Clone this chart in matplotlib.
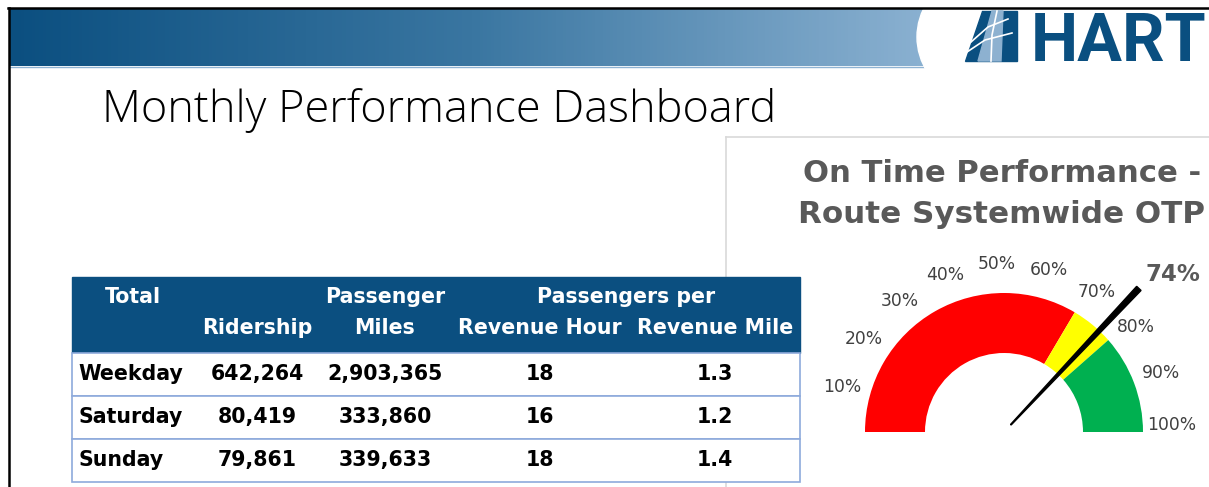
import numpy as np
import matplotlib
matplotlib.use("Agg")
import matplotlib.pyplot as plt
from matplotlib.colors import LinearSegmentedColormap
from matplotlib.patches import Rectangle, Polygon, Ellipse

# table data
days = ["Weekday", "Saturday", "Sunday"]
ridership = ["642,264", "80,419", "79,861"]
passenger_miles = ["2,903,365", "333,860", "339,633"]
per_rev_hour = ["18", "16", "18"]
per_rev_mile = ["1.3", "1.2", "1.4"]

# gauge data
otp_value = 74
band_edges = [0, 67, 77, 100]
band_colors = ["#ff0000", "#ffff00", "#00b050"]
tick_values = [10, 20, 30, 40, 50, 60, 70, 80, 90, 100]

W, H = 1209, 487
fig = plt.figure(figsize=(W / 100, H / 100), dpi=100)
fig.patch.set_facecolor("white")
ax = fig.add_axes([0, 0, 1, 1])
renderer = fig.canvas.get_renderer()


def fit(t, target):
    # scale a text so its width matches the target width in pixels
    w = t.get_window_extent(renderer).width
    t.set_fontsize(t.get_fontsize() * target / w)


# header band with gradient
cmap = LinearSegmentedColormap.from_list("hdr", ["#0b4f80", "#3a76a1", "#8cb2d2"])
ax.imshow(np.linspace(0, 1, 256)[None, :], cmap=cmap, extent=[10, 935, 66, 9],
          aspect="auto", zorder=1)
ax.plot([10, 935], [66.5, 66.5], color="#8fb3d3", lw=1, zorder=1)
ax.add_patch(Ellipse((1062, 37), 290, 190, color="white", zorder=2))

# logo
ax.add_patch(Polygon([(982, 11), (1017, 11), (1017, 61), (965, 61)], closed=True,
                     color="#0a4f80", zorder=3))
ax.add_patch(Polygon([(992, 11), (1003, 11), (1001, 61), (978, 61)], closed=True,
                     color="#8db1d0", zorder=3))
ax.plot([967, 985, 1012], [52, 40, 33], color="white", lw=1.2, zorder=4)
ax.plot([971, 988, 1008], [42, 27, 19], color="white", lw=1.2, zorder=4)
ax.plot([997, 992, 991], [11, 35, 61], color="white", lw=1.2, zorder=4)
ax.text(1031, 61, "HART", fontsize=48, fontweight="bold", color="#0a4f80",
        family=["Roboto", "DejaVu Sans"], ha="left", va="baseline", zorder=4)

# slide frame
ax.plot([8, W], [8, 8], color="black", lw=1.8, zorder=5)
ax.plot([9, 9], [8, H], color="black", lw=1.8, zorder=5)

# slide title
title = ax.text(102, 122, "Monthly Performance Dashboard", fontsize=38,
                family="Open Sans", fontweight="light", color="black",
                ha="left", va="baseline")
fit(title, 674)

# gauge panel border
ax.plot([726, W], [137, 137], color="#d9d9d9", lw=1.2, zorder=1)
ax.plot([726, 726], [137, H], color="#d9d9d9", lw=1.2, zorder=1)

g1 = ax.text(1002, 182, "On Time Performance -", fontsize=20, fontweight="bold",
             color="#595959", ha="center", va="baseline")
g2 = ax.text(1002, 223, "Route Systemwide OTP", fontsize=20, fontweight="bold",
             color="#595959", ha="center", va="baseline")
fit(g1, 397)
fit(g2, 407)

# table
tx0, tx1 = 72, 800
hy0, hy1 = 277, 353
row_h = 43
hdr_col = "#0b4f80"
line_col = "#8eaadb"
ax.add_patch(Rectangle((tx0, hy0), tx1 - tx0, hy1 - hy0, color=hdr_col, zorder=3))
col_x = [257, 385, 540, 715]
fs = 14.8
hkw = dict(fontsize=fs, fontweight="bold", color="white", ha="center",
           va="baseline", zorder=4)
ax.text(133, 303, "Total", **hkw)
ax.text(385, 303, "Passenger", **hkw)
ax.text(626, 303, "Passengers per", **hkw)
for x, lab in zip(col_x, ["Ridership", "Miles", "Revenue Hour", "Revenue Mile"]):
    ax.text(x, 334, lab, **hkw)

for i, day in enumerate(days):
    y0 = hy1 + i * row_h
    ax.add_patch(Rectangle((tx0, y0), tx1 - tx0, row_h, facecolor="white",
                           edgecolor=line_col, lw=1.2, zorder=3))
    yb = y0 + 27
    ax.text(78, yb, day, fontsize=fs, fontweight="bold", color="black",
            ha="left", va="baseline", zorder=4)
    vals = [ridership[i], passenger_miles[i], per_rev_hour[i], per_rev_mile[i]]
    for x, v in zip(col_x, vals):
        ax.text(x, yb, v, fontsize=fs, fontweight="bold", color="black",
                ha="center", va="baseline", zorder=4)

ax.set_xlim(0, W)
ax.set_ylim(H, 0)
ax.axis("off")

# gauge on a polar axes, radius in pixels
cx, cy, R = 1004, 432, 200
gax = fig.add_axes([(cx - R) / W, (H - cy - R) / H, 2 * R / W, 2 * R / H],
                   projection="polar")
gax.set_ylim(0, R)
gax.set_axis_off()
gax.patch.set_alpha(0)


def ang(v):
    return np.pi * (1 - v / 100)


r_in, r_out = 79, 139
for lo, hi, c in zip(band_edges[:-1], band_edges[1:], band_colors):
    gax.bar((ang(lo) + ang(hi)) / 2, r_out - r_in, width=ang(lo) - ang(hi),
            bottom=r_in, color=c, edgecolor="none")

for v in tick_values:
    gax.text(ang(v) + np.radians(2.5), 168, f"{v}%", fontsize=12.3,
             color="#404040", ha="center", va="center")

th = ang(otp_value)
u = np.array([np.cos(th), np.sin(th)])
n = np.array([-np.sin(th), np.cos(th)])
pts = [10 * u + 0.4 * n, 197 * u + 3 * n, 197 * u - 3 * n, 10 * u - 0.4 * n]
gax.fill([np.arctan2(p[1], p[0]) for p in pts], [np.hypot(*p) for p in pts],
         color="black")
gax.text(th - np.radians(3.9), 231, f"{otp_value}%", fontsize=16.5,
         fontweight="bold", color="#595959", ha="center", va="center")

fig.savefig("out.png", dpi=100)
